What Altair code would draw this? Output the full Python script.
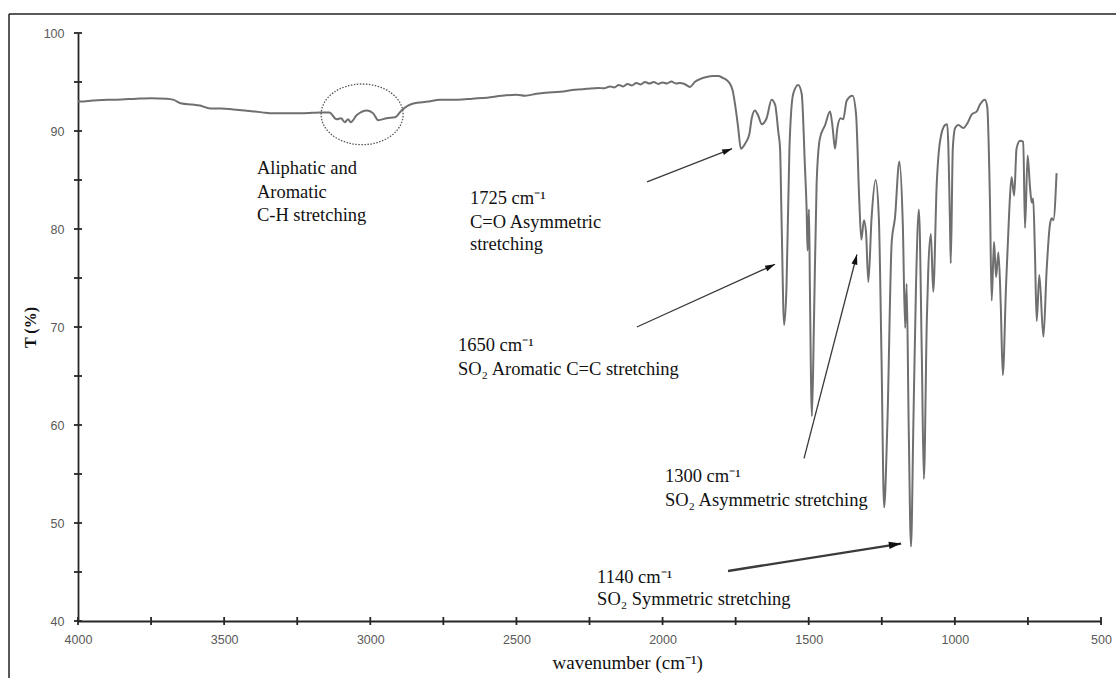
import altair as alt
import pandas as pd

# ---- spectrum ----
wavenumber = [4000, 3993, 3950, 3900, 3868, 3800, 3750, 3697, 3675, 3645, 3610, 3583, 3548, 3510,
              3469, 3430, 3401, 3370, 3332, 3290, 3240, 3200, 3172, 3140, 3115, 3100, 3087, 3076,
              3067, 3047, 3011, 2990, 2973, 2944, 2915, 2893, 2853, 2800, 2762, 2700, 2650, 2600,
              2550, 2500, 2470, 2430, 2400, 2350, 2300, 2260, 2220, 2200, 2180, 2165, 2150, 2135,
              2120, 2105, 2090, 2075, 2060, 2045, 2030, 2015, 2000, 1985, 1970, 1955, 1941, 1925,
              1906, 1890, 1872, 1850, 1827, 1810, 1793, 1781, 1769, 1760, 1750, 1742, 1732, 1718,
              1703, 1695, 1684, 1672, 1661, 1644, 1627, 1615, 1604, 1598, 1593, 1584, 1576, 1566,
              1553, 1536, 1524, 1513, 1507, 1504, 1499, 1496, 1489, 1482, 1473, 1462, 1444, 1427,
              1418, 1410, 1402, 1391, 1382, 1370, 1350, 1338, 1327, 1320, 1311, 1304, 1296, 1285,
              1271, 1260, 1251, 1242, 1231, 1216, 1205, 1190, 1178, 1170, 1165, 1158, 1150, 1142,
              1133, 1123, 1113, 1106, 1096, 1091, 1082, 1074, 1062, 1051, 1034, 1026, 1017, 1014,
              1007, 999, 988, 971, 957, 942, 925, 914, 897, 889, 880, 874, 866, 859, 851, 843, 836,
              825, 814, 806, 797, 789, 777, 766, 760, 751, 743, 737, 732, 726, 720, 711, 697, 686,
              675, 669, 663, 652]
transmittance = [93.0, 93.0, 93.1, 93.2, 93.2, 93.3, 93.35, 93.3, 93.2, 92.8, 92.7, 92.6, 92.3, 92.3,
                 92.2, 92.1, 92.0, 91.9, 91.8, 91.8, 91.8, 91.85, 91.9, 91.9, 91.2, 91.3, 90.9, 91.2,
                 90.9, 91.6, 92.1, 91.8, 91.1, 91.3, 91.4, 92.1, 92.8, 93.0, 93.2, 93.2, 93.3, 93.4,
                 93.6, 93.7, 93.6, 93.8, 93.9, 94.0, 94.2, 94.3, 94.4, 94.35, 94.55, 94.45, 94.7, 94.55,
                 94.8, 94.65, 94.9, 94.75, 95.0, 94.85, 95.0, 94.8, 94.95, 94.85, 95.05, 94.85, 94.9, 94.8,
                 94.5, 95.0, 95.3, 95.5, 95.6, 95.6, 95.4, 95.2, 94.8, 94.1, 92.3, 90.5, 88.2, 88.7,
                 89.7, 91.3, 92.1, 91.5, 90.7, 91.3, 93.2, 92.7, 89.9, 88.2, 81.1, 70.2, 74.1, 88.2,
                 93.8, 94.7, 93.8, 86.4, 81.8, 77.8, 82.0, 74.1, 60.9, 70.6, 84.6, 89.2, 90.6, 92.0,
                 90.3, 88.2, 90.3, 91.3, 91.2, 93.1, 93.6, 91.7, 82.9, 78.9, 80.9, 79.7, 74.6, 81.1,
                 85.0, 81.1, 67.0, 51.6, 60.0, 78.7, 81.1, 86.9, 80.4, 69.9, 74.4, 60.0, 47.6, 60.0,
                 74.1, 82.0, 67.0, 54.5, 70.6, 75.8, 79.5, 73.6, 84.6, 88.9, 90.6, 90.7, 81.1, 76.5,
                 88.2, 90.3, 90.6, 90.3, 90.8, 91.7, 92.0, 92.7, 93.2, 92.4, 82.9, 72.7, 78.7, 75.1,
                 77.6, 72.3, 65.1, 74.1, 81.8, 85.3, 83.4, 88.2, 89.0, 88.9, 80.1, 87.5, 84.3, 82.7,
                 83.1, 77.6, 70.6, 75.3, 69.0, 75.8, 80.4, 81.1, 80.9, 85.7]

# ---- axes ----
x_labels = [4000, 3500, 3000, 2500, 2000, 1500, 1000, 500]
x_ticks = [4000, 3750, 3500, 3250, 3000, 2750, 2500, 2250, 2000, 1750, 1500, 1250, 1000, 750, 500]
y_labels = [40, 50, 60, 70, 80, 90, 100]
y_ticks = [40, 45, 50, 55, 60, 65, 70, 75, 80, 85, 90, 95, 100]

# ---- annotations ----
ann_wn = [3388, 3388, 3388, 2659, 2659, 2659, 2700, 2700, 1992, 1992, 2224, 2224]
ann_t = [86.2, 83.8, 81.4, 83.2, 80.7, 78.5, 68.2, 65.7, 54.8, 52.3, 44.5, 42.2]
ann_text = ["Aliphatic and", "Aromatic", "C-H stretching",
            "1725 cm⁻¹", "C=O Asymmetric", "stretching",
            "1650 cm⁻¹", "SO₂ Aromatic C=C stretching",
            "1300 cm⁻¹", "SO₂ Asymmetric stretching",
            "1140 cm⁻¹", "SO₂ Symmetric stretching"]

arrow_tip_wn = [1762, 1615, 1335, 1184]
arrow_tip_t = [88.2, 76.4, 77.4, 47.9]
arrow_tail_wn = [2053, 2088, 1516, 1776]
arrow_tail_t = [84.8, 70.0, 56.6, 45.1]
arrow_angle = [68.8, 65.6, 14.6, 81.1]
arrow_kind = ["thin", "thin", "thin", "thick"]

circle_wn = [3028]
circle_t = [91.7]

W, H = 1023, 588

spec = pd.DataFrame({"wn": wavenumber, "T": transmittance})
ann = pd.DataFrame({"wn": ann_wn, "T": ann_t, "label": ann_text})
arrows = pd.DataFrame({"wn": arrow_tip_wn, "T": arrow_tip_t, "wn2": arrow_tail_wn,
                       "T2": arrow_tail_t, "ang": arrow_angle, "kind": arrow_kind})
circ = pd.DataFrame({"wn": circle_wn, "T": circle_t})
xt = pd.DataFrame({"wn": x_ticks})
yt = pd.DataFrame({"T": y_ticks})
one = pd.DataFrame({"d": [0]})

xscale = alt.Scale(domain=[500, 4000], reverse=True, nice=False, zero=False)
yscale = alt.Scale(domain=[40, 100], nice=False, zero=False)

line = alt.Chart(spec).mark_line(color="#6f6f6f", strokeWidth=2, interpolate="monotone").encode(
    x=alt.X("wn:Q", scale=xscale,
            axis=alt.Axis(values=x_labels, title="wavenumber (cm⁻¹)", titleX=474, titleY=41,
                          titleAlign="left", titleBaseline="middle", labelPadding=12,
                          titleFontSize=19, titleFontWeight="normal", format="d",
                          labelFlush=False)),
    y=alt.Y("T:Q", scale=yscale,
            axis=alt.Axis(values=y_labels, title="T (%)", titleX=-48, titleY=H / 2,
                          titleAngle=270, titleAlign="center", titleBaseline="middle",
                          titleFontWeight="bold", titleFontSize=16, labelPadding=14,
                          labelFlush=False)),
)

xticks = alt.Chart(xt).mark_rule(color="#262626", strokeWidth=1.8).encode(
    x=alt.X("wn:Q", scale=xscale), y=alt.value(H - 4), y2=alt.value(H + 4))
yticks = alt.Chart(yt).mark_rule(color="#262626", strokeWidth=1.8).encode(
    y=alt.Y("T:Q", scale=yscale), x=alt.value(-4), x2=alt.value(4))

texts = alt.Chart(ann).mark_text(align="left", baseline="middle", font="Liberation Serif",
                                 fontSize=18.5, color="#111111").encode(
    x=alt.X("wn:Q", scale=xscale), y=alt.Y("T:Q", scale=yscale), text="label:N")

shafts = alt.Chart(arrows).mark_rule(color="#3a3a3a").encode(
    x=alt.X("wn:Q", scale=xscale), y=alt.Y("T:Q", scale=yscale),
    x2="wn2:Q", y2="T2:Q",
    strokeWidth=alt.StrokeWidth("kind:N", scale=alt.Scale(domain=["thin", "thick"], range=[1.3, 2.4]),
                                legend=None))
heads = alt.Chart(arrows).mark_point(shape="M0,0 L0.6,2 L-0.6,2 Z", filled=True, opacity=1,
                                     color="#111111").encode(
    x=alt.X("wn:Q", scale=xscale), y=alt.Y("T:Q", scale=yscale),
    angle=alt.Angle("ang:Q", scale=None),
    size=alt.Size("kind:N", scale=alt.Scale(domain=["thin", "thick"], range=[100, 150]), legend=None))

ellipse = alt.Chart(circ).mark_point(shape="M-1,0 A1,0.74 0 1,1 1,0 A1,0.74 0 1,1 -1,0 Z",
                                     filled=False, opacity=1, color="#555555", strokeWidth=1.3,
                                     strokeDash=[1.5, 1.5], size=6724).encode(
    x=alt.X("wn:Q", scale=xscale), y=alt.Y("T:Q", scale=yscale))

border_left = alt.Chart(one).mark_rule(color="#222222", strokeWidth=1.5).encode(
    x=alt.value(-69), y=alt.value(-19), y2=alt.value(H + 100))
border_top = alt.Chart(one).mark_rule(color="#222222", strokeWidth=1.5).encode(
    x=alt.value(-69), x2=alt.value(W + 100), y=alt.value(-19))

chart = alt.layer(line, xticks, yticks, ellipse, shafts, heads, texts, border_left, border_top).properties(
    width=W, height=H,
    padding={"left": 78, "top": 33, "right": 15, "bottom": 57},
    autosize=alt.AutoSizeParams(type="none"),
    background="white",
).configure_view(strokeWidth=0).configure_axis(
    grid=False, ticks=False, tickSize=0, domainColor="#262626", domainWidth=1.8,
    labelColor="#595959", labelFont="Liberation Sans", labelFontSize=12.5,
    titleFont="Liberation Serif", titleColor="#111111",
)

chart.save("out.html", embed_options={"renderer": "svg", "actions": False})
